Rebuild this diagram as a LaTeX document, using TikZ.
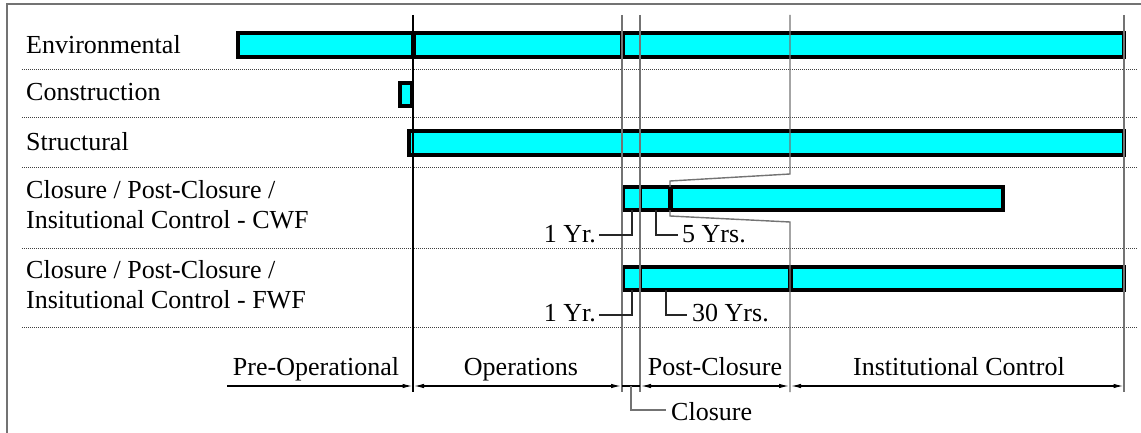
\documentclass[tikz,border=0pt]{standalone}
\usepackage{fontspec}
\setmainfont{Liberation Serif}
\newfontfamily\tnr{Liberation Serif}
\usetikzlibrary{arrows.meta}
\definecolor{aqua}{RGB}{0,255,255}
\begin{document}
\begin{tikzpicture}[x=1pt,y=-1pt,
  lbl/.style={inner sep=0pt, font=\tnr\fontsize{26}{31}\selectfont},
  bar/.style={draw=black, fill=aqua, line width=3.5pt},
  thickdiv/.style={draw=black, line width=5pt},
  thindiv/.style={draw=black, line width=3pt},
  sep/.style={draw=black!75, line width=1pt, dash pattern=on 1pt off 1pt},
  guide/.style={draw=black!55, line width=1.4pt},
  guidedark/.style={draw=black, line width=1.1pt},
  leader/.style={draw=black!85, line width=1.1pt},
  frame/.style={draw=black!55, line width=1.8pt},
  oneway/.style={draw=black, line width=1.2pt, -{Latex[length=10pt,width=4.5pt]}},
  twoway/.style={draw=black, line width=1.2pt, {Latex[length=10pt,width=4.5pt]}-{Latex[length=10pt,width=4.5pt]}}
]
\useasboundingbox (0,0) rectangle (1141,433);
% frame
\draw[frame] (7,433) -- (7,4) -- (1141,4);
% row separators
\foreach \yy in {70,118,168,248,327} \draw[sep] (22,\yy) -- (1137,\yy);
% bars
\draw[bar] (238,33) rectangle (1124,57);
\draw[thickdiv] (413,33) -- (413,57);
\draw[thickdiv] (622,33) -- (622,57);
\draw[bar] (400,83) rectangle (412,106);
\draw[bar] (409,131) rectangle (1124,155);
\draw[bar] (623,187) rectangle (1003,210);
\draw[thindiv] (640,187) -- (640,210);
\draw[thickdiv] (670,187) -- (670,210);
\draw[bar] (623,267) rectangle (1124,290);
\draw[thindiv] (640,267) -- (640,290);
\draw[thickdiv] (790,267) -- (790,290);
% phase boundary guides
\coordinate (gtop1) at (413,15); \coordinate (gbot1) at (413,392);
\coordinate (gtop2) at (622,15); \coordinate (gbot2) at (622,392);
\coordinate (gtop3) at (640,15); \coordinate (gbot3) at (640,392);
\coordinate (gtop4) at (790,15); \coordinate (gbot4) at (790,392);
\coordinate (gtop5) at (1124,15); \coordinate (gbot5) at (1124,392);
\draw[guidedark] (gtop1) -- (gbot1);
\draw[guide] (gtop2) -- (gbot2);
\draw[guide] (gtop3) -- (gbot3);
\draw[guide] (gtop5) -- (gbot5);
\draw[guide] (gtop4) -- (790,174) -- (670,181) -- (670,187);
\draw[guide] (670,210) -- (670,216) -- (790,222) -- (gbot4);
% row labels
\node[lbl, anchor=base west] (env) at (26,54) {Environmental};
\node[lbl, anchor=base west] (cons) at (26,101) {Construction};
\node[lbl, anchor=base west] (struc) at (26,150) {Structural};
\node[lbl, anchor=base west] (cwfa) at (26,198) {Closure / Post-Closure /};
\node[lbl, anchor=base west] (cwfb) at (26,229) {Insitutional Control - CWF};
\node[lbl, anchor=base west] (fwfa) at (26,278) {Closure / Post-Closure /};
\node[lbl, anchor=base west] (fwfb) at (26,308) {Insitutional Control - FWF};
% duration labels
\node[lbl, anchor=base east] (cwfone) at (596,242) {1 Yr.};
\node[lbl, anchor=base west] (cwffive) at (682,242) {5 Yrs.};
\node[lbl, anchor=base east] (fwfone) at (596,321) {1 Yr.};
\node[lbl, anchor=base west] (fwfthirty) at (692,321) {30 Yrs.};
\coordinate (c1) at (632,210); \coordinate (c5) at (656,210);
\coordinate (f1) at (632,290); \coordinate (f30) at (666,290);
\draw[leader] (c1) |- ([xshift=3pt,yshift=7pt]cwfone.base east);
\draw[leader] (c5) |- ([xshift=-4pt,yshift=7pt]cwffive.base west);
\draw[leader] (f1) |- ([xshift=3pt,yshift=6pt]fwfone.base east);
\draw[leader] (f30) |- ([xshift=-5pt,yshift=6pt]fwfthirty.base west);
% timeline
\coordinate (t0) at (227,386);
\coordinate (t1) at (413,386);
\coordinate (t2) at (622,386);
\coordinate (t3) at (640,386);
\coordinate (t4) at (790,386);
\coordinate (t5) at (1124,386);
\draw[oneway] (t0) -- ([xshift=-0.5pt]t1);
\draw[twoway] ([xshift=1pt]t1) -- ([xshift=-1pt]t2);
\draw[draw=black, line width=1.2pt] (t2) -- (t3);
\draw[twoway] ([xshift=1pt]t3) -- ([xshift=-1pt]t4);
\draw[twoway] ([xshift=1pt]t4) -- ([xshift=-0.5pt]t5);
\node[lbl, anchor=base] (preop) at (316,375) {Pre-Operational};
\node[lbl, anchor=base] (ops) at (521,375) {Operations};
\node[lbl, anchor=base] (post) at (715,375) {Post-Closure};
\node[lbl, anchor=base] (inst) at (959,375) {Institutional Control};
\node[lbl, anchor=base west] (clos) at (671,420) {Closure};
\coordinate (cl) at (631,386);
\draw[guide, line width=1.2pt] (cl) |- ([xshift=-5pt,yshift=10pt]clos.base west);
\end{tikzpicture}
\end{document}
